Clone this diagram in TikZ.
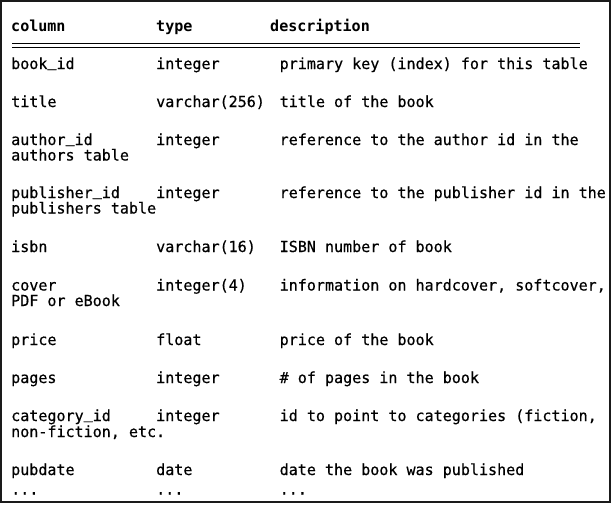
\documentclass[tikz,border=0pt]{standalone}
\usepackage{fontspec}
\newfontfamily\codefont[FakeStretch=0.99, UprightFeatures={FakeBold=0.5}]{DejaVu Sans Mono}
\def\us{\raisebox{2.5pt}{\_}}
\begin{document}
\begin{tikzpicture}[x=1pt,y=-1pt]

\definecolor{tcolor}{HTML}{000000}
\definecolor{bcolor}{HTML}{1A1A1A}

\tikzstyle{celltext}=[anchor=base west, inner sep=0pt, color=tcolor, font=\codefont\fontsize{15.2}{15.5}\selectfont]
\tikzstyle{headtext}=[celltext, font=\codefont\bfseries\fontsize{15.2}{15.5}\selectfont]
\tikzstyle{frame}=[line width=1.5pt, color=bcolor]
\tikzstyle{ruler}=[line width=0.9pt, color=tcolor]

%\draw[help lines] (0,0) grid[step=50] (613,504);
\useasboundingbox (0,0) rectangle (613,504);
\draw[frame] (1,1) rectangle (610,502);

% header
\node[headtext] (hcol) at (11,31) {column};
\node[headtext] (htype) at (156,31) {type};
\node[headtext] (hdesc) at (270,31) {description};
\draw[ruler] (12,43.5) -- (580,43.5);
\draw[ruler] (12,47.5) -- (580,47.5);

% rows
\foreach \y/\c/\t/\d [count=\i] in {
    69/book\us id/integer/{primary key (index) for this table},
    107/title/varchar(256)/{title of the book},
    145/author\us id/integer/{reference to the author id in the},
    198/publisher\us id/integer/{reference to the publisher id in the},
    252/isbn/varchar(16)/{ISBN number of book},
    290.5/cover/integer(4)/{information on hardcover, softcover,},
    345/price/float/{price of the book},
    383/pages/integer/{\# of pages in the book},
    421/category\us id/integer/{id to point to categories (fiction,},
    475/pubdate/date/{date the book was published}} {
    \node[celltext] (col\i) at (11,\y) {\c};
    \node[celltext] (type\i) at (156,\y) {\t};
    \node[celltext] (desc\i) at (279.5,\y) {\d};
};

% last row
\node[celltext] (colx) at (11,494.5) {...};
\node[celltext] (typex) at (156,494.5) {...};
\node[celltext] (descx) at (279.5,494.5) {...};

% wrapped lines
\node[celltext] (wrapa) at (11,160.5) {authors table};
\node[celltext] (wrapb) at (11,213.5) {publishers table};
\node[celltext] (wrapc) at (11,306) {PDF or eBook};
\node[celltext] (wrapd) at (11,437) {non-fiction, etc.};

\end{tikzpicture}
\end{document}
